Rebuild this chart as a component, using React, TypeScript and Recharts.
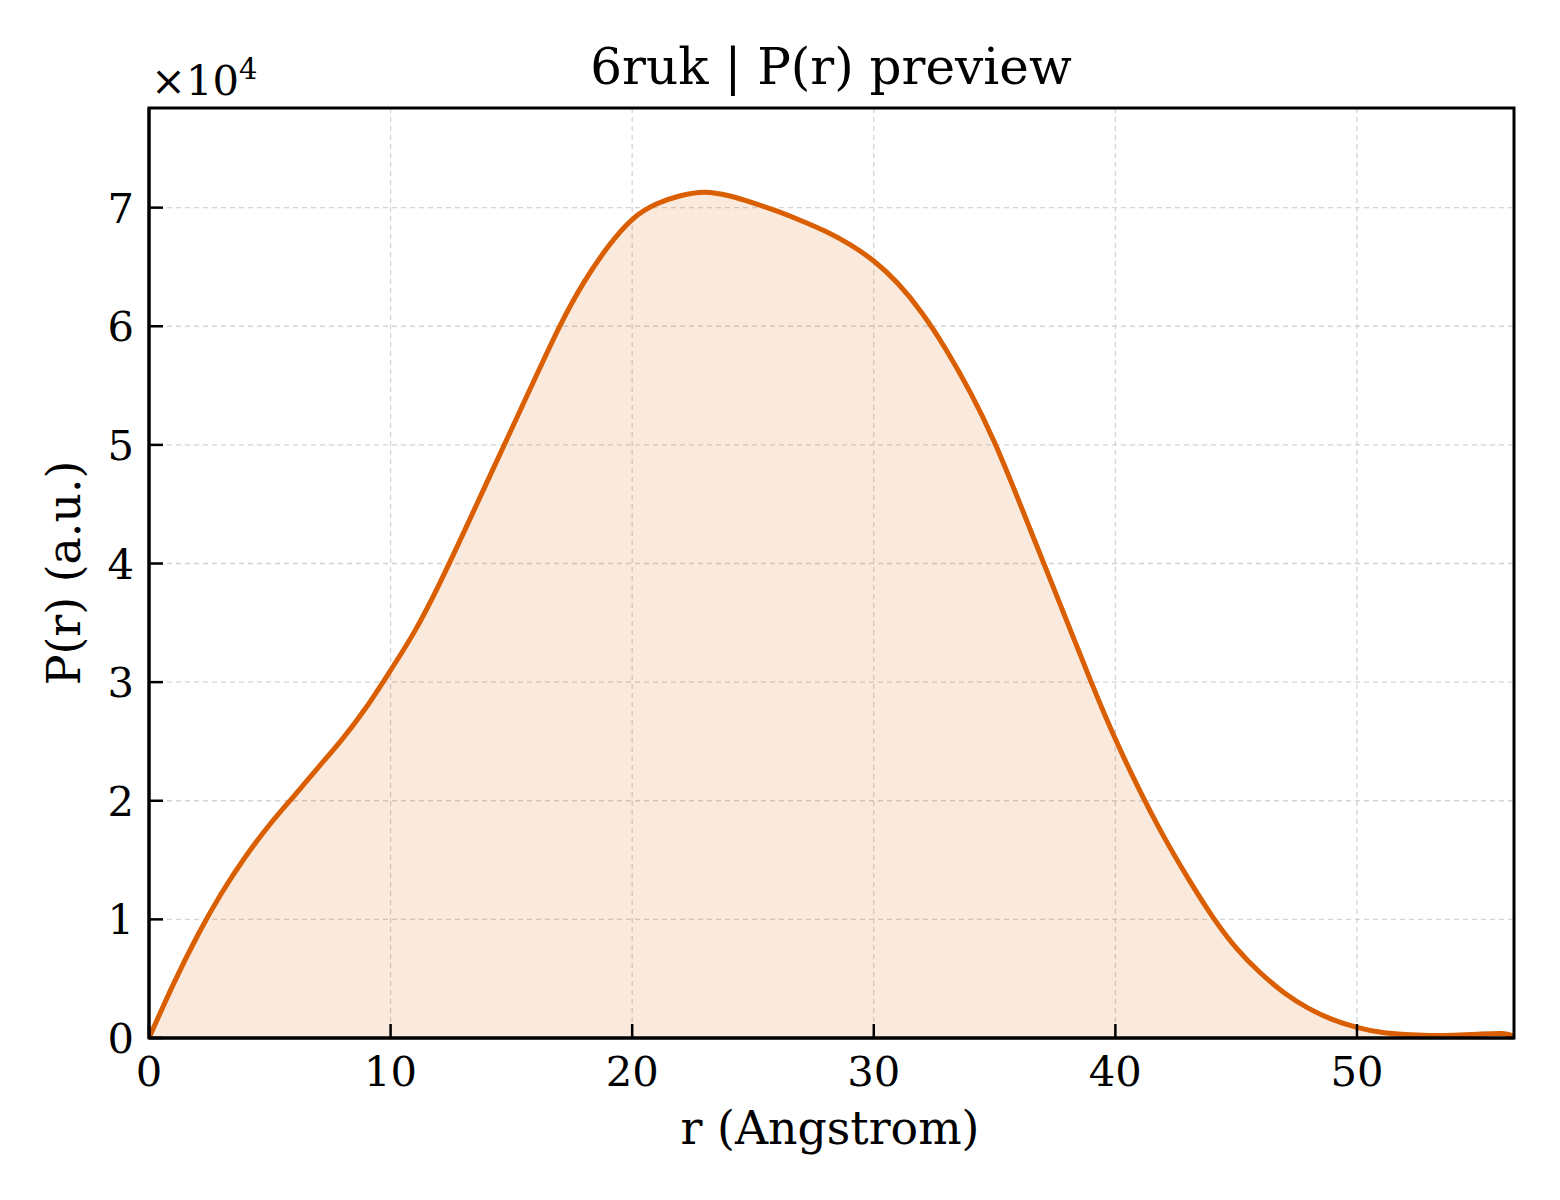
import React from "react";
import {
  ComposedChart,
  Area,
  XAxis,
  YAxis,
  CartesianGrid,
  ReferenceArea,
} from "recharts";

// r grid (Angstrom)
const rValues = [
  0, 1, 2, 3, 4, 5, 6, 7, 8, 9, 10, 11, 12, 13, 14, 15, 16, 17, 18, 19, 20,
  21, 22, 23, 24, 25, 26, 27, 28, 29, 30, 31, 32, 33, 34, 35, 36, 37, 38, 39,
  40, 41, 42, 43, 44, 45, 46, 47, 48, 49, 50, 51, 52, 53, 54, 55, 56, 56.5,
];

// P(r) in units of 1e4
const prValues = [
  0, 0.45, 0.86, 1.22, 1.53, 1.8, 2.04, 2.28, 2.52, 2.79, 3.1, 3.43, 3.82,
  4.25, 4.69, 5.13, 5.57, 6.0, 6.37, 6.67, 6.9, 7.03, 7.1, 7.13, 7.1, 7.04,
  6.97, 6.89, 6.8, 6.69, 6.55, 6.36, 6.11, 5.8, 5.44, 5.02, 4.53, 4.02, 3.51,
  3.0, 2.52, 2.09, 1.7, 1.35, 1.03, 0.76, 0.55, 0.38, 0.25, 0.155, 0.09,
  0.048, 0.029, 0.022, 0.024, 0.032, 0.038, 0.015,
];

const xTicks = [0, 10, 20, 30, 40, 50];
const yTicks = [0, 10000, 20000, 30000, 40000, 50000, 60000, 70000];

const X_MAX = 56.5;
const Y_MAX = 78400;

const ORANGE = "#d95f02";
const FONT = "'DejaVu Serif', serif";
const TICK_FONT = 41.7;
const LABEL_FONT = 45.8;

const data = rValues.map((r, i) => ({ r, pr: prValues[i] * 10000 }));

function XTick({ x, y, payload }: any) {
  return (
    <g>
      <line x1={x} x2={x} y1={y} y2={y - 14} stroke="#000" strokeWidth={2.5} />
      <text
        x={x}
        y={y + 48}
        textAnchor="middle"
        fontFamily={FONT}
        fontSize={TICK_FONT}
        fill="#000"
      >
        {payload.value}
      </text>
    </g>
  );
}

function YTick({ x, y, payload }: any) {
  return (
    <g>
      <line x1={x} x2={x + 14} y1={y} y2={y} stroke="#000" strokeWidth={2.5} />
      <text
        x={x - 15}
        y={y + 15}
        textAnchor="end"
        fontFamily={FONT}
        fontSize={TICK_FONT}
        fill="#000"
      >
        {payload.value / 10000}
      </text>
    </g>
  );
}

export default function App() {
  return (
    <div
      style={{
        position: "absolute",
        left: 0,
        top: 0,
        width: 1560,
        height: 1200,
        background: "#fff",
      }}
    >
      <ComposedChart
        width={1560}
        height={1200}
        data={data}
        margin={{ top: 108, right: 46, left: 69, bottom: 102 }}
      >
        <CartesianGrid
          stroke="#d4d4d4"
          strokeWidth={1.3}
          strokeDasharray="5 4"
          horizontalValues={yTicks}
          verticalValues={xTicks}
        />
        <XAxis
          dataKey="r"
          type="number"
          domain={[0, X_MAX]}
          ticks={xTicks}
          allowDataOverflow
          height={60}
          tickSize={0}
          tickMargin={0}
          tickLine={false}
          axisLine={{ stroke: "#000", strokeWidth: 3 }}
          tick={<XTick />}
          interval={0}
        />
        <YAxis
          type="number"
          domain={[0, Y_MAX]}
          ticks={yTicks}
          allowDataOverflow
          width={80}
          tickSize={0}
          tickMargin={0}
          tickLine={false}
          axisLine={{ stroke: "#000", strokeWidth: 3 }}
          tick={<YTick />}
          interval={0}
        />
        <Area
          type="natural"
          dataKey="pr"
          stroke={ORANGE}
          strokeWidth={5}
          fill={ORANGE}
          fillOpacity={0.13}
          dot={false}
          activeDot={false}
          isAnimationActive={false}
        />
        <ReferenceArea
          x1={0}
          x2={X_MAX}
          y1={0}
          y2={Y_MAX}
          fill="none"
          stroke="#000"
          strokeWidth={3}
          strokeOpacity={1}
        />
      </ComposedChart>
      <svg
        width={1560}
        height={1200}
        style={{ position: "absolute", left: 0, top: 0, pointerEvents: "none" }}
      >
        <text
          x={831}
          y={84}
          textAnchor="middle"
          fontFamily={FONT}
          fontSize={50}
          fill="#000"
        >
          6ruk | P(r) preview
        </text>
        <text x={151} y={95} fontFamily={FONT} fontSize={TICK_FONT} fill="#000">
          ×10
          <tspan dy={-16} fontSize={29}>
            4
          </tspan>
        </text>
        <text
          x={830}
          y={1144}
          textAnchor="middle"
          fontFamily={FONT}
          fontSize={LABEL_FONT}
          fill="#000"
        >
          r (Angstrom)
        </text>
        <text
          x={0}
          y={0}
          transform="translate(80 573) rotate(-90)"
          textAnchor="middle"
          fontFamily={FONT}
          fontSize={LABEL_FONT}
          fill="#000"
        >
          P(r) (a.u.)
        </text>
      </svg>
    </div>
  );
}
